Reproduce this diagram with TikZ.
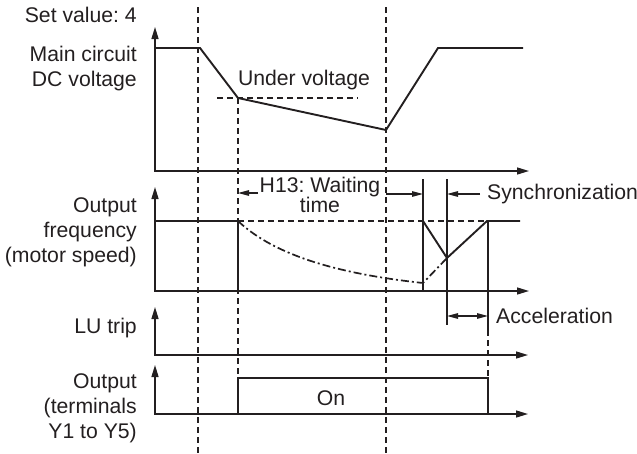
\documentclass[tikz,border=0pt]{standalone}
\usepackage{fontspec}
\setmainfont{Liberation Sans}
\usepackage{tikz}
\usetikzlibrary{arrows.meta}
\definecolor{tdink}{RGB}{35,31,32}
\frenchspacing

\tikzset{
  axis/.style={tdink, line width=1.4pt, {Triangle[length=12pt,width=7pt]}-{Triangle[length=12pt,width=7pt]}},
  sig/.style={tdink, line width=1.9pt, line join=miter},
  guide/.style={tdink, line width=1.1pt, dash pattern=on 6pt off 4pt},
  dimarrow/.style={tdink, line width=1.3pt, -{Triangle[length=11pt,width=5.5pt]}},
  tick/.style={tdink, line width=1.3pt},
  lbl/.style={tdink, font=\fontsize{21.2}{25}\selectfont, inner sep=0pt}
}

\begin{document}
\begin{tikzpicture}[x=1pt, y=-1pt]
\useasboundingbox (0,0) rectangle (637,453);

% dashed time marks
\draw[guide] (198,7) -- (198,453);
\draw[guide] (386,7) -- (386,453);
\draw[guide] (238,98) -- (238,378);

% ---- main circuit DC voltage ----
\node[lbl, anchor=east] (setval) at (137,15) {Set value: 4};
\node[lbl, anchor=east, align=right] (dclbl) at (137,69) {Main circuit\\DC voltage};
\draw[axis] (155,27) |- (529,171);
\draw[sig] (155,48) -- (200,48) -- (238,98) -- (386,130) -- (438,48) -- (523,48);
\draw[guide] (217,98) -- (358,98);
\node[lbl] (uvlbl) at (304,80) {Under voltage};

% ---- output frequency ----
\node[lbl, anchor=east, align=right] (freqlbl) at (137,232)
  {Output\\frequency\\(motor speed)};
\draw[axis] (155,187) |- (529,291);
\draw[sig] (155,221) -- (238,221) -- (238,291);
\draw[sig] (423,291) -- (423,221) -- (447,258) -- (487,221) -- (520,221);
\draw[guide] (238,221) -- (487,221);
\draw[tdink, line width=1.7pt, dash pattern=on 8pt off 3pt on 2pt off 3pt]
  (238,221) .. controls (275,256) and (340,274) .. (423,283) -- (447,258);

% timing ticks
\draw[tick] (423,179) -- (423,291);
\draw[tick] (447,179) -- (447,325);
\draw[tick] (488,221) -- (488,330);
\draw[guide] (488,330) -- (488,378);

% waiting time / synchronization / acceleration
\draw[dimarrow] (258,193) -- (238,193);
\draw[dimarrow] (386,194) -- (423,194);
\node[lbl, align=center, font=\fontsize{21.2}{18}\selectfont] (waitlbl) at (320,195)
  {H13: Waiting\\time};
\draw[dimarrow] (480,194) -- (447,194);
\node[lbl, anchor=west] (synclbl) at (487,194) {Synchronization};
\draw[tick, {Triangle[length=11pt,width=5.5pt]}-{Triangle[length=11pt,width=5.5pt]}] (447,316) -- (488,316);
\node[lbl, anchor=west] (acclbl) at (496,316) {Acceleration};

% ---- LU trip ----
\node[lbl, anchor=east] (lulbl) at (137,328) {LU trip};
\draw[axis] (155,307) |- (528,355);

% ---- output terminals ----
\node[lbl, anchor=east, align=right] (outlbl) at (137,408)
  {Output\\(terminals\\Y1 to Y5)};
\draw[axis] (155,365) |- (528,414);
\draw[sig] (238,414) -- (238,378) -- (488,378) -- (488,414);
\node[lbl] (onlbl) at (331,398) {On};
\end{tikzpicture}
\end{document}
